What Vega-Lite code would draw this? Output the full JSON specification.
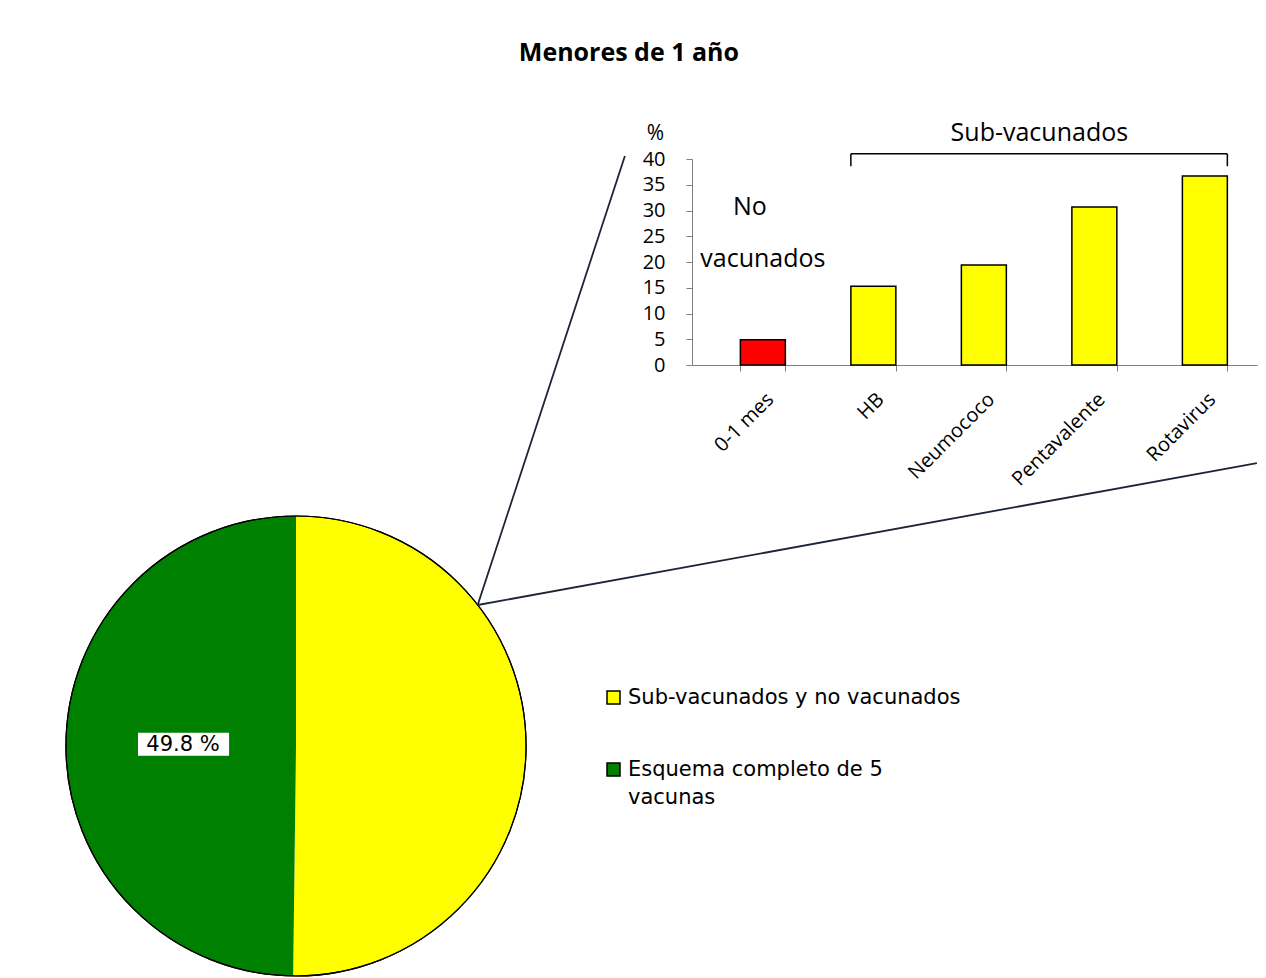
{
  "$schema": "https://vega.github.io/schema/vega-lite/v6.json",
  "background": "white",
  "padding": {"left": 0, "top": 41, "right": 0, "bottom": 0},
  "title": {"text": "Menores de 1 año", "font": "Open Sans", "fontSize": 25, "fontWeight": "bold", "color": "black", "anchor": "middle", "offset": 55},
  "datasets": {
    "bars": [
      {"cat": "0-1 mes", "pct": 4.9, "grupo": "No vacunados"},
      {"cat": "HB", "pct": 15.3, "grupo": "Sub-vacunados"},
      {"cat": "Neumococo", "pct": 19.4, "grupo": "Sub-vacunados"},
      {"cat": "Pentavalente", "pct": 30.7, "grupo": "Sub-vacunados"},
      {"cat": "Rotavirus", "pct": 36.7, "grupo": "Sub-vacunados"}
    ],
    "notes": [
      {"cat": "0-1 mes", "pct": 30.7, "text": "No"},
      {"cat": "0-1 mes", "pct": 20.6, "text": "vacunados"},
      {"cat": "Pentavalente", "pct": 45, "text": "Sub-vacunados"}
    ],
    "bracket": [{"from": "HB", "to": "Rotavirus", "pct": 41, "bottom": 38.6}],
    "pie": [
      {"cat": "Sub-vacunados y no vacunados", "pct": 50.2, "label": ""},
      {"cat": "Esquema completo de 5 vacunas", "pct": 49.8, "label": "49.8 %"}
    ],
    "zoom": [
      {"x": 0.79, "y": 0.613, "x2": 1.43, "y2": 2.565},
      {"x": 0.79, "y": 0.613, "x2": 4.178, "y2": 1.23}
    ]
  },
  "columns": 2,
  "spacing": {"row": 151, "column": 100},
  "bounds": "flush",
  "resolve": {"scale": {"color": "independent"}, "legend": {"color": "independent"}},
  "concat": [
    {"width": 10, "height": 206, "data": {"values": []}, "mark": "text"},
    {
      "width": 565,
      "height": 206,
      "encoding": {
        "y": {"field": "pct", "type": "quantitative",
          "scale": {"domain": [0, 40], "nice": false},
          "axis": {"values": [0, 5, 10, 15, 20, 25, 30, 35, 40], "labelOverlap": false, "grid": false, "title": "%", "titleAngle": 0, "titleAlign": "center", "titleBaseline": "middle", "titleX": -37, "titleY": -26, "titleFontSize": 21, "titleFontWeight": "normal", "titleFont": "Open Sans", "titleColor": "black", "labelFontSize": 20, "labelFont": "Open Sans", "labelColor": "black", "domainColor": "#7f7f7f", "tickColor": "#7f7f7f", "tickSize": 6, "labelPadding": 21}}
      },
      "layer": [
        {
          "data": {"name": "bars"},
          "mark": {"type": "bar", "stroke": "black", "strokeWidth": 1.5},
          "encoding": {
            "x": {"field": "cat", "type": "nominal", "sort": null,
              "scale": {"domain": ["0-1 mes", "HB", "Neumococo", "Pentavalente", "Rotavirus"], "paddingInner": 0.593, "paddingOuter": 0.353, "align": 0.62},
              "axis": {"title": null, "labelAngle": -45, "labelFontSize": 20, "labelFont": "Open Sans", "labelColor": "black", "tickBand": "extent", "tickSize": 6, "domainColor": "#7f7f7f", "tickColor": "#7f7f7f", "labelPadding": 18, "labelOverlap": false}},
            "color": {"field": "grupo", "type": "nominal", "scale": {"domain": ["No vacunados", "Sub-vacunados"], "range": ["#FF0000", "#FFFF00"]}, "legend": null}
          }
        },
        {
          "data": {"name": "notes"},
          "transform": [{"filter": "datum.text == 'No'"}],
          "mark": {"type": "text", "font": "Open Sans", "fontSize": 25, "fill": "black", "baseline": "middle", "dx": -13},
          "encoding": {
            "x": {"field": "cat", "type": "nominal"},
            "text": {"field": "text"}
          }
        },
        {
          "data": {"name": "notes"},
          "transform": [{"filter": "datum.text == 'vacunados'"}],
          "mark": {"type": "text", "font": "Open Sans", "fontSize": 25, "fill": "black", "baseline": "middle"},
          "encoding": {
            "x": {"field": "cat", "type": "nominal"},
            "text": {"field": "text"}
          }
        },
        {
          "data": {"name": "notes"},
          "transform": [{"filter": "datum.text == 'Sub-vacunados'"}],
          "mark": {"type": "text", "font": "Open Sans", "fontSize": 25, "fill": "black", "baseline": "middle", "dx": -55},
          "encoding": {
            "x": {"field": "cat", "type": "nominal"},
            "text": {"field": "text"}
          }
        },
        {
          "data": {"name": "bracket"},
          "mark": {"type": "rule", "stroke": "black", "strokeWidth": 1.5},
          "encoding": {
            "x": {"field": "from", "type": "nominal", "bandPosition": 0},
            "x2": {"field": "to", "bandPosition": 1}
          }
        },
        {
          "data": {"name": "bracket"},
          "mark": {"type": "rule", "stroke": "black", "strokeWidth": 1.5},
          "encoding": {
            "x": {"field": "from", "type": "nominal", "bandPosition": 0},
            "y2": {"field": "bottom"}
          }
        },
        {
          "data": {"name": "bracket"},
          "mark": {"type": "rule", "stroke": "black", "strokeWidth": 1.5},
          "encoding": {
            "x": {"field": "to", "type": "nominal", "bandPosition": 1},
            "y2": {"field": "bottom"}
          }
        }
      ]
    },
    {
      "width": 592,
      "height": 460,
      "data": {"name": "pie"},
      "layer": [
        {
          "mark": {"type": "arc", "outerRadius": 230},
          "encoding": {
            "theta": {"field": "pct", "type": "quantitative", "stack": true},
            "order": {"field": "cat", "sort": "descending"},
            "color": {"field": "cat", "type": "nominal",
              "scale": {"domain": ["Sub-vacunados y no vacunados", "Esquema completo de 5 vacunas"], "range": ["#FFFF00", "#008000"]},
              "legend": {"orient": "none", "legendX": 603, "legendY": 171, "title": null, "direction": "vertical", "symbolType": "square", "symbolSize": 169, "symbolStrokeColor": "black", "symbolStrokeWidth": 1.5, "labelFont": "DejaVu Sans", "labelFontSize": 21, "labelColor": "black", "labelOffset": 4, "labelLimit": 500, "rowPadding": 50, "padding": 0,
                "labelExpr": "datum.label == 'Esquema completo de 5 vacunas' ? ['Esquema completo de 5', 'vacunas'] : datum.label",
                "encode": {"labels": {"update": {"lineHeight": {"value": 28}}}}}}
          }
        },
        {
          "mark": {"type": "arc", "outerRadius": 230, "theta": 0, "theta2": 6.2832, "filled": false, "stroke": "black", "strokeWidth": 1.2},
          "encoding": {}
        },
        {
          "data": {"values": [{}]},
          "mark": {"type": "rect", "fill": "white"},
          "encoding": {
            "x": {"datum": -0.687, "type": "quantitative", "scale": {"domain": [-1.287, 1.287], "nice": false, "zero": false}, "axis": null},
            "x2": {"datum": -0.291},
            "y": {"datum": -0.042, "type": "quantitative", "scale": {"domain": [-1, 1], "nice": false, "zero": false}, "axis": null},
            "y2": {"datum": 0.058}
          }
        },
        {
          "mark": {"type": "text", "radius": 113, "font": "DejaVu Sans", "fontSize": 21, "fill": "black"},
          "encoding": {
            "theta": {"field": "pct", "type": "quantitative", "stack": true},
            "order": {"field": "cat", "sort": "descending"},
            "text": {"field": "label"}
          }
        },
        {
          "data": {"name": "zoom"},
          "mark": {"type": "rule", "stroke": "#1c2538", "strokeWidth": 1.8},
          "encoding": {
            "x": {"field": "x", "type": "quantitative", "scale": {"domain": [-1.287, 1.287], "nice": false, "zero": false}, "axis": null},
            "y": {"field": "y", "type": "quantitative", "scale": {"domain": [-1, 1], "nice": false, "zero": false}, "axis": null},
            "x2": {"field": "x2"},
            "y2": {"field": "y2"}
          }
        }
      ]
    }
  ],
  "config": {"view": {"stroke": null}}
}
